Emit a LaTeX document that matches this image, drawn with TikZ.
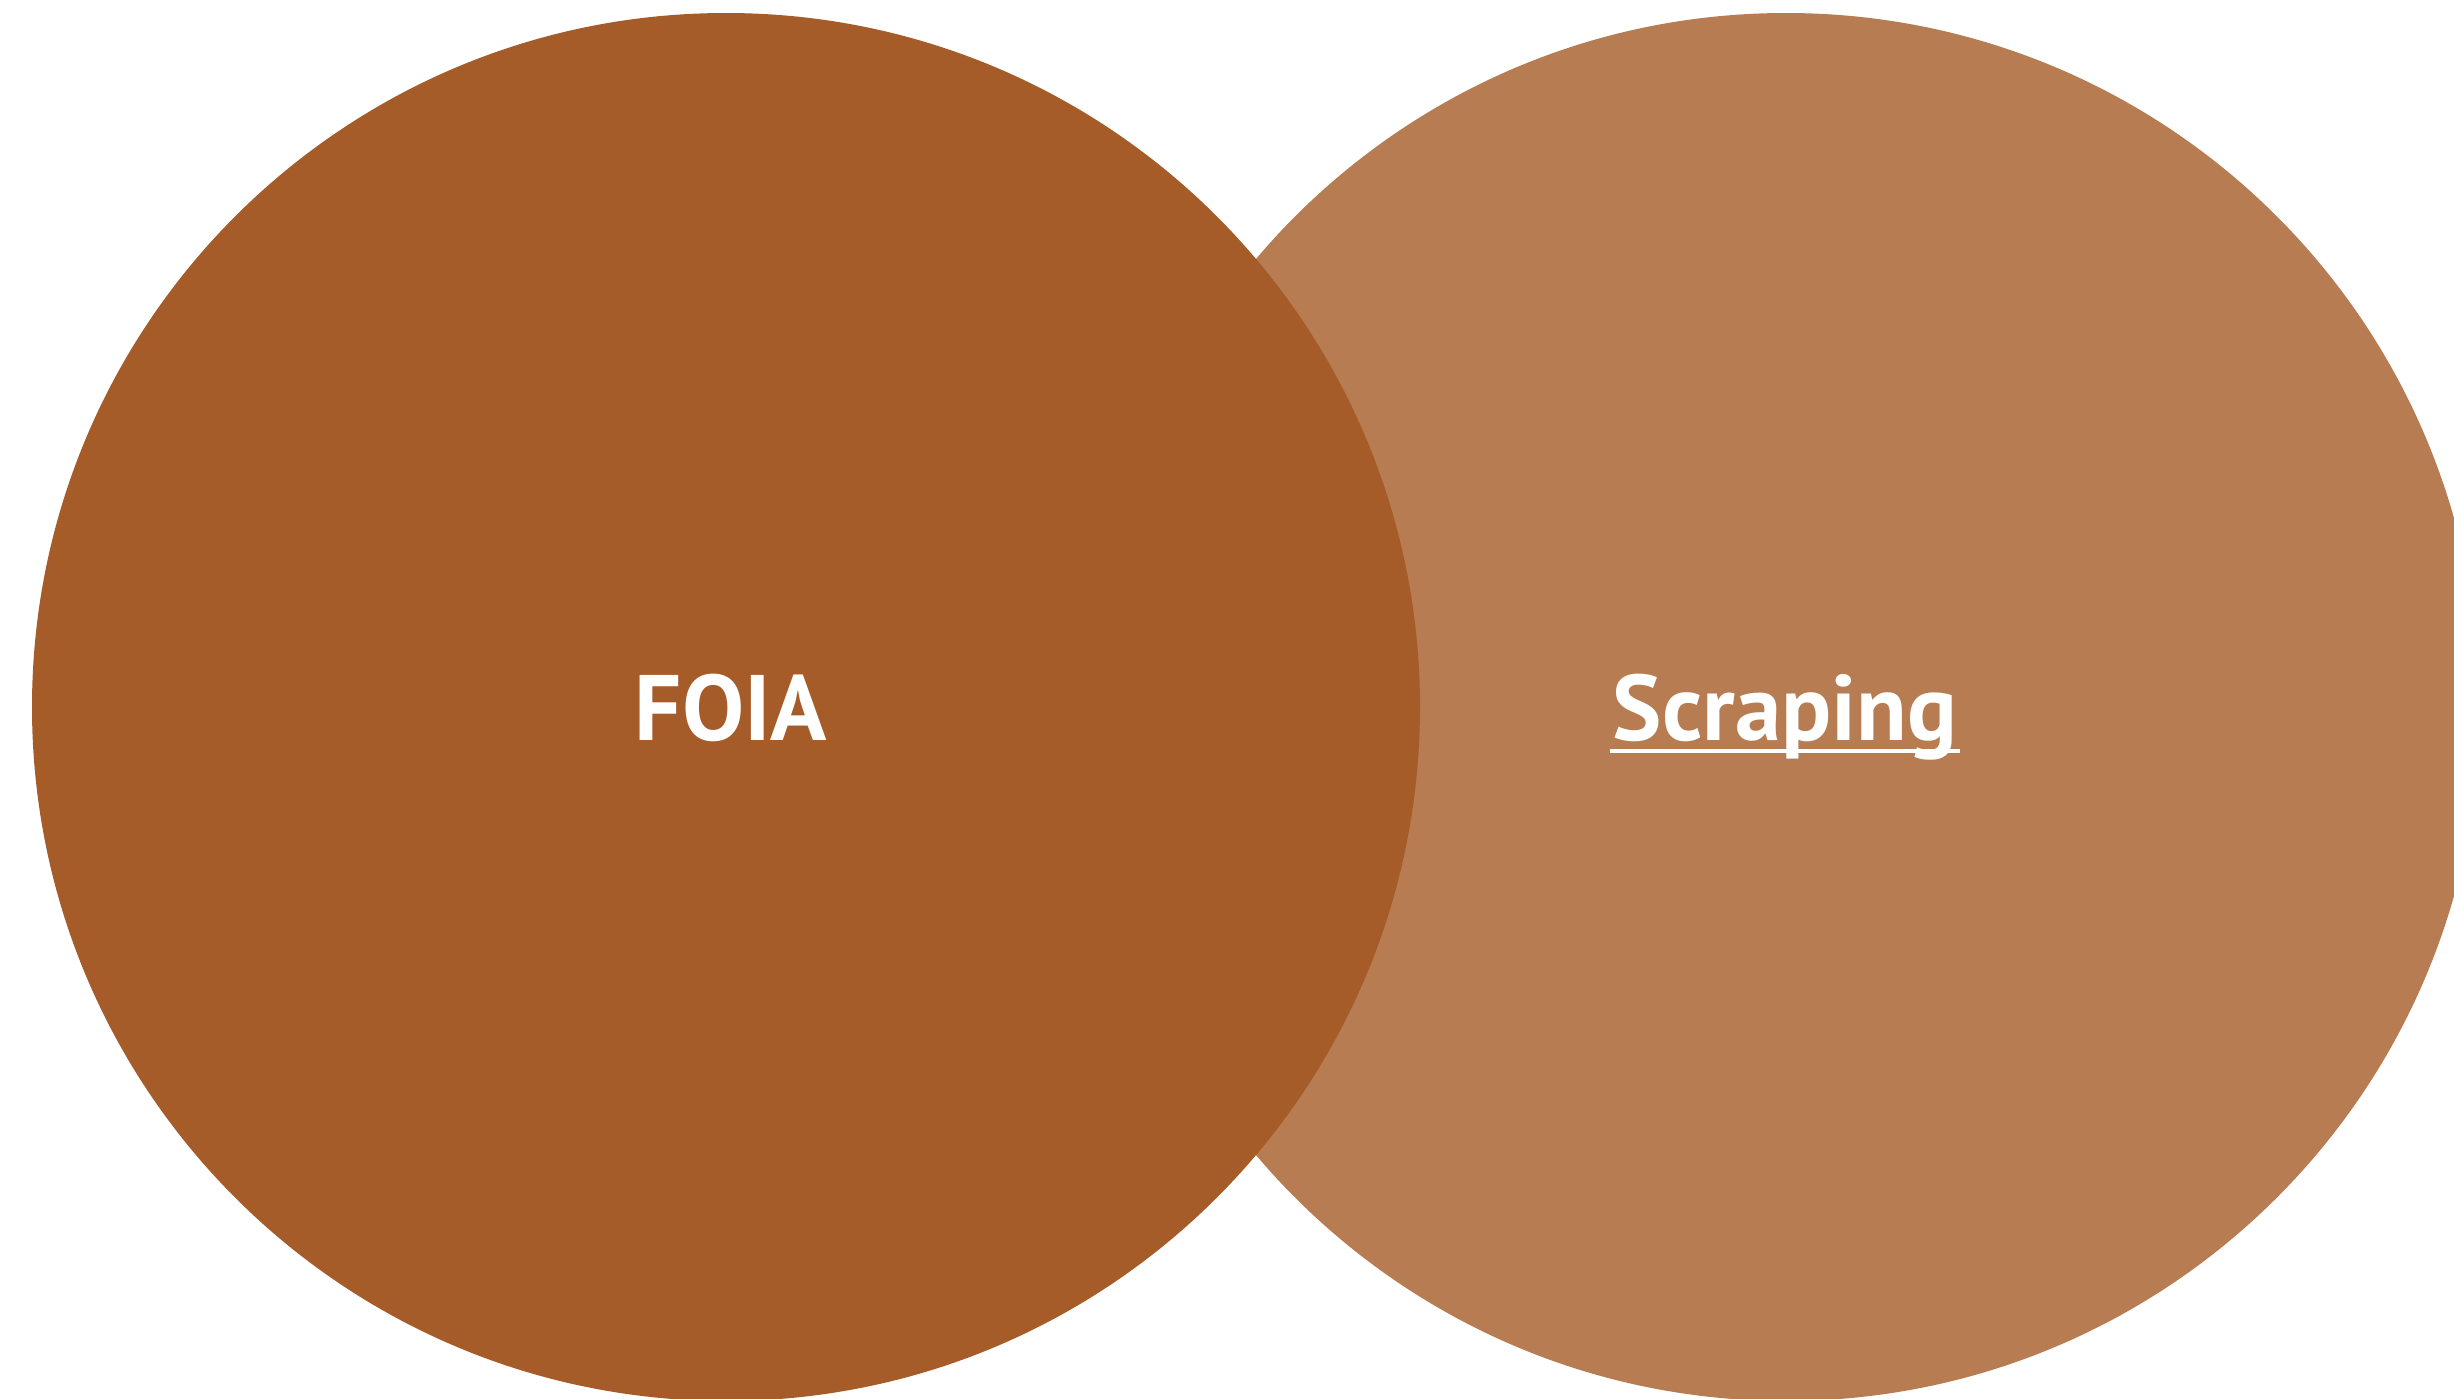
\documentclass[tikz,border=0pt]{standalone}
\usepackage{fontspec}
\setmainfont{PT Sans}
\definecolor{leftc}{RGB}{166,92,40}
\definecolor{rightc}{RGB}{183,124,82}
\begin{document}
\begin{tikzpicture}[x=1pt,y=-1pt,
  lbl/.style={text=white,inner sep=0pt,font=\fontsize{93}{100}\selectfont\bfseries}]
\useasboundingbox (0,0) rectangle (2454,1398);
\clip (0,0) rectangle (2454,1398);
\fill[white] (0,0) rectangle (2454,1398);
\fill[rightc] (1786,707) circle[radius=694];
\fill[leftc] (726,707) circle[radius=694];
\node[lbl,anchor=base] (foia) at (731,740) {FOIA};
\node[lbl,anchor=base] (scr) at (1785,740) {Scraping};
\coordinate (ul1) at ([xshift=-3pt,yshift=-11pt]scr.base west);
\coordinate (ul2) at ([xshift=3pt,yshift=-11pt]scr.base east);
\draw[white,line width=4pt] (ul1) -- (ul2);
\end{tikzpicture}
\end{document}
